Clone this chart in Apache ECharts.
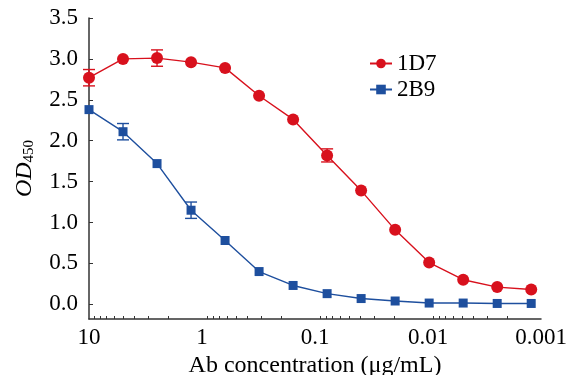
<!DOCTYPE html>
<html>
<head>
<meta charset="utf-8">
<script src="https://cdn.jsdelivr.net/npm/echarts@6/dist/echarts.min.js"></script>
<style>html,body{margin:0;padding:0;background:#fff}#c{width:569px;height:375px}</style>
</head>
<body>
<div id="c"></div>
<script>
const conc = [10, 5, 2.5, 1.25, 0.625, 0.3125, 0.15625, 0.078125, 0.0390625, 0.01953125, 0.009765625, 0.0048828125, 0.00244140625, 0.001220703125];
const od1D7 = [2.77, 3.00, 3.01, 2.96, 2.89, 2.55, 2.26, 1.82, 1.39, 0.91, 0.51, 0.30, 0.21, 0.18];
const od2B9 = [2.38, 2.11, 1.72, 1.15, 0.78, 0.40, 0.23, 0.13, 0.07, 0.04, 0.015, 0.015, 0.01, 0.01];
const err1D7 = [0.10, 0, 0.10, 0, 0, 0, 0, 0.08, 0, 0, 0, 0, 0, 0];
const err2B9 = [0, 0.10, 0, 0.10, 0, 0, 0, 0, 0, 0, 0, 0, 0, 0];
const xLabels = [10, 1, 0.1, 0.01, 0.001];
const xMinor = [9,8,7,6,5,4,3,2, 0.9,0.8,0.7,0.6,0.5,0.4,0.3,0.2, 0.09,0.08,0.07,0.06,0.05,0.04,0.03,0.02, 0.009,0.008,0.007,0.006,0.005,0.004,0.003,0.002];
const yTicks = [0, 0.5, 1.0, 1.5, 2.0, 2.5, 3.0, 3.5];

const RED = '#d8111d', BLUE = '#1e4f9e';
const FONT = '"Liberation Serif", "DejaVu Serif", serif';

function errData(vals, errs) {
  const out = [];
  vals.forEach((v, i) => { if (errs[i] > 0) out.push([conc[i], v - errs[i], v + errs[i]]); });
  return out;
}
function errRender(color) {
  return function (params, api) {
    const x = api.value(0);
    const lo = api.coord([x, api.value(1)]);
    const hi = api.coord([x, api.value(2)]);
    const w = 6;
    const st = { stroke: color, lineWidth: 1.4 };
    return { type: 'group', children: [
      { type: 'line', shape: { x1: lo[0], y1: lo[1], x2: hi[0], y2: hi[1] }, style: st },
      { type: 'line', shape: { x1: lo[0] - w, y1: lo[1], x2: lo[0] + w, y2: lo[1] }, style: st },
      { type: 'line', shape: { x1: hi[0] - w, y1: hi[1], x2: hi[0] + w, y2: hi[1] }, style: st }
    ]};
  };
}

const chart = echarts.init(document.getElementById('c'));
chart.setOption({
  animation: false,
  backgroundColor: '#fff',
  textStyle: { fontFamily: FONT },
  grid: { left: 89, right: 28, top: 18, bottom: 56, outerBoundsMode: 'none', containLabel: false },
  legend: {
    data: ['1D7', '2B9'],
    orient: 'vertical', left: 364, top: 47, itemGap: 3,
    itemWidth: 22, itemHeight: 12,
    textStyle: { fontFamily: FONT, fontSize: 23, color: '#000' }
  },
  xAxis: {
    type: 'log', logBase: 10, min: 0.001, max: 10, inverse: true,
    name: 'Ab concentration (μg/mL)', nameLocation: 'middle', nameGap: 33,
    nameTextStyle: { fontFamily: FONT, fontSize: 24, color: '#000' },
    axisLine: { onZero: false, lineStyle: { color: '#333', width: 1.5 } },
    axisTick: { show: true, inside: true, length: 3, customValues: xMinor, lineStyle: { color: '#333', width: 1 } },
    axisLabel: { customValues: xLabels, fontFamily: FONT, fontSize: 23, color: '#000', margin: 7,
      formatter: v => String(v) },
    splitLine: { show: false }, minorTick: { show: false }
  },
  yAxis: {
    type: 'value', min: -0.18, max: 3.5,
    name: '{i|OD}{s|450}', nameLocation: 'middle', nameGap: 52, nameRotate: 90,
    nameTextStyle: { rich: {
      i: { fontFamily: FONT, fontSize: 24, fontStyle: 'italic', color: '#000' },
      s: { fontFamily: FONT, fontSize: 15, color: '#000', verticalAlign: 'bottom', padding: [8, 0, 0, 0] }
    } },
    axisLine: { show: true, onZero: false, lineStyle: { color: '#333', width: 1.5 } },
    axisTick: { show: true, inside: true, length: 4, customValues: yTicks, lineStyle: { color: '#333', width: 1 } },
    axisLabel: { customValues: yTicks, fontFamily: FONT, fontSize: 23, color: '#000', margin: 11,
      formatter: v => v.toFixed(1) },
    splitLine: { show: false }
  },
  series: [
    { name: '1D7', type: 'line', data: conc.map((c, i) => [c, od1D7[i]]),
      symbol: 'circle', symbolSize: 12, color: RED,
      lineStyle: { color: RED, width: 1.4 }, itemStyle: { color: RED }, z: 3 },
    { name: '2B9', type: 'line', data: conc.map((c, i) => [c, od2B9[i]]),
      symbol: 'rect', symbolSize: 9, color: BLUE,
      lineStyle: { color: BLUE, width: 1.4 }, itemStyle: { color: BLUE }, z: 3 },
    { type: 'custom', renderItem: errRender(RED), data: errData(od1D7, err1D7), z: 4, silent: true },
    { type: 'custom', renderItem: errRender(BLUE), data: errData(od2B9, err2B9), z: 4, silent: true }
  ]
});
</script>
</body>
</html>
